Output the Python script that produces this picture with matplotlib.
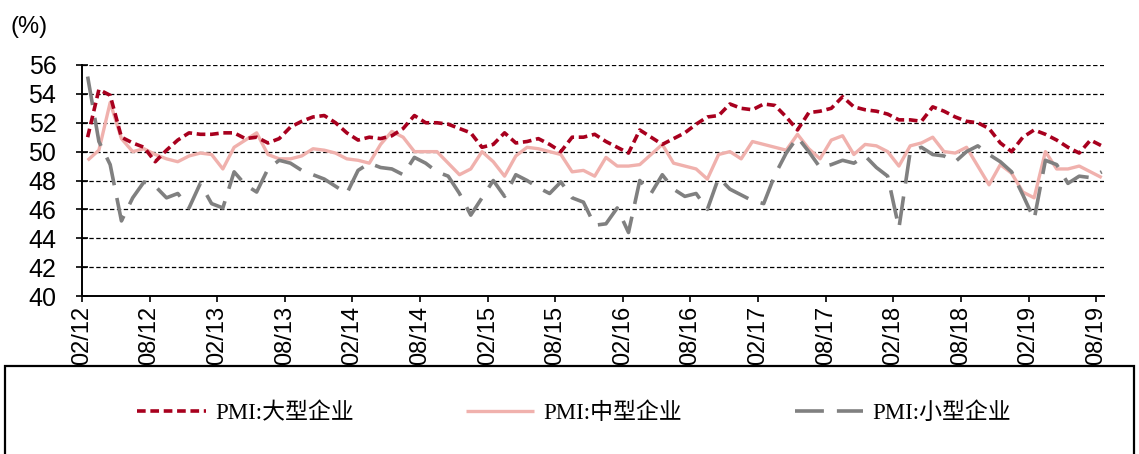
import matplotlib
matplotlib.use("Agg")
import matplotlib.pyplot as plt
from matplotlib.patches import Rectangle

# month labels every 6 months, Feb 2012 .. Aug 2019
tick_labels = ['02/12', '08/12', '02/13', '08/13', '02/14', '08/14', '02/15', '08/15',
               '02/16', '08/16', '02/17', '08/17', '02/18', '08/18', '02/19', '08/19']

# PMI by enterprise size (monthly, Feb 2012 .. Aug 2019)
large = [51.0, 54.3, 53.9, 51.0, 50.6, 50.3, 49.3, 50.1, 50.8, 51.3,
         51.2, 51.2, 51.3, 51.3, 50.9, 51.0, 50.6, 50.9, 51.7, 52.1,
         52.4, 52.5, 52.0, 51.3, 50.8, 51.0, 50.9, 51.1, 51.6, 52.5,
         52.0, 52.0, 51.9, 51.6, 51.3, 50.3, 50.5, 51.3, 50.6, 50.7,
         50.9, 50.5, 50.0, 51.0, 51.0, 51.2, 50.7, 50.3, 49.9, 51.5,
         51.0, 50.5, 50.9, 51.3, 51.9, 52.4, 52.5, 53.3, 53.0, 52.9,
         53.3, 53.2, 52.4, 51.5, 52.7, 52.8, 53.0, 53.8, 53.1, 52.9,
         52.8, 52.6, 52.2, 52.2, 52.1, 53.1, 52.8, 52.4, 52.1, 52.0,
         51.6, 50.6, 50.0, 51.0, 51.5, 51.2, 50.8, 50.3, 49.9, 50.8,
         50.4]
medium = [49.4, 50.1, 53.4, 50.9, 50.0, 50.2, 49.8, 49.5, 49.3, 49.7,
          49.9, 49.8, 48.8, 50.3, 50.8, 51.3, 49.8, 49.5, 49.5, 49.7,
          50.2, 50.1, 49.9, 49.5, 49.4, 49.2, 50.5, 51.4, 51.0, 50.0,
          50.0, 50.0, 49.2, 48.4, 48.8, 50.0, 49.3, 48.3, 49.7, 50.3,
          50.2, 50.0, 49.8, 48.6, 48.7, 48.3, 49.6, 49.0, 49.0, 49.1,
          49.8, 50.5, 49.2, 49.0, 48.8, 48.1, 49.8, 50.0, 49.5, 50.7,
          50.5, 50.3, 50.1, 51.2, 50.2, 49.5, 50.8, 51.1, 49.8, 50.5,
          50.4, 50.0, 49.0, 50.4, 50.6, 51.0, 50.0, 49.9, 50.3, 49.0,
          47.7, 49.1, 48.5, 47.2, 46.8, 50.0, 48.8, 48.8, 49.0, 48.6,
          48.2]
small = [55.2, 50.7, 49.1, 45.2, 46.8, 47.9, 47.6, 46.8, 47.1, 46.1,
         47.8, 46.4, 46.1, 48.6, 47.7, 47.2, 48.8, 49.4, 49.2, 48.7,
         48.4, 48.1, 47.6, 47.1, 48.7, 49.2, 48.9, 48.8, 48.4, 49.6,
         49.2, 48.6, 48.3, 47.1, 45.6, 46.8, 48.0, 46.9, 48.4, 48.0,
         47.5, 47.1, 47.9, 46.8, 46.5, 44.9, 45.0, 46.1, 44.4, 48.0,
         47.1, 48.4, 47.4, 46.9, 47.1, 46.0, 48.2, 47.4, 47.0, 46.6,
         46.4, 48.4, 49.9, 51.0, 50.0, 48.9, 49.1, 49.4, 49.2, 49.7,
         48.9, 48.3, 44.7, 50.0, 50.3, 49.8, 49.7, 49.3, 50.0, 50.4,
         49.8, 49.3, 48.6, 47.0, 45.3, 49.4, 49.1, 47.8, 48.3, 48.2,
         48.6]

num_font = ['Liberation Sans Narrow', 'Liberation Sans']
leg_font = ['Liberation Serif', 'Noto Sans CJK SC']

W, H = 1139, 454
fig = plt.figure(figsize=(W / 100, H / 100), dpi=100)
ax = fig.add_axes([82 / W, 1 - 296 / H, (1104 - 82) / W, (296 - 65) / H])

x = [i + 0.5 for i in range(len(large))]

l2, = ax.plot(x, medium, color='#F0B1AD', lw=2.4, solid_capstyle='butt', zorder=3)
l3, = ax.plot(x, small, color='#808080', lw=2.6, linestyle=(0, (8.0, 3.6)), zorder=4)
l1, = ax.plot(x, large, color='#A8001E', lw=2.6, linestyle=(0, (2.4, 1.3)), zorder=5)

ax.set_xlim(0, 90.7)
ax.set_ylim(40, 56)
ax.set_yticks(range(40, 57, 2))
ax.set_xticks(range(0, 91, 6))
ax.set_xticklabels(tick_labels, rotation=90, family=num_font, fontsize=17)
for lab in ax.get_yticklabels():
    lab.set_family(num_font)
    lab.set_fontsize(18)

ax.grid(axis='y', color='black', linestyle=(0, (3.5, 2.0)), linewidth=0.9, zorder=1)
ax.set_axisbelow(True)

for s in ['top', 'right']:
    ax.spines[s].set_visible(False)
for s in ['left', 'bottom']:
    ax.spines[s].set_linewidth(1.4)
    ax.spines[s].set_color('black')

ax.tick_params(axis='y', direction='inout', length=9, width=1.2, pad=14)
ax.tick_params(axis='x', direction='out', length=4, width=1.2, pad=3)

fig.text(10 / W, 1 - 27 / H, '(%)', fontsize=17, family=num_font, va='center', ha='left')

# legend frame
fig.patches.append(Rectangle((5 / W, -0.05), 1129 / W, (454 - 366) / H + 0.05,
                             transform=fig.transFigure, fill=False,
                             edgecolor='black', linewidth=1.6))

fig.legend([l1, l2, l3], ['PMI:大型企业', 'PMI:中型企业', 'PMI:小型企业'],
           loc='center', bbox_to_anchor=(574 / W, 1 - 413 / H), ncol=3,
           frameon=False, prop={'family': leg_font, 'size': 16.5},
           handlelength=3.0, handletextpad=0.4, columnspacing=4.9)

fig.savefig('out.png', dpi=100)
